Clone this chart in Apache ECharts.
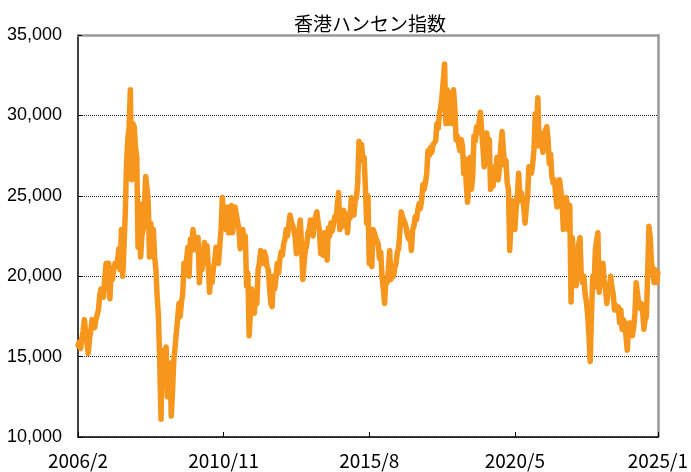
<!DOCTYPE html>
<html>
<head>
<meta charset="utf-8">
<script src="https://cdn.jsdelivr.net/npm/echarts@6/dist/echarts.min.js"></script>
<style>
html,body{margin:0;padding:0;background:#fff;}
#chart{width:691px;height:472px;}
</style>
</head>
<body>
<div id="chart"></div>
<script>
// Hang Seng Index, two readings per month (1st and 16th)
const title = '香港ハンセン指数';
const startYear = 2006, startMonth = 2, endYear = 2025, endMonth = 1;
const tickLabels = ['2006/2', '2010/11', '2015/8', '2020/5', '2025/1'];
const yTicks = [10000, 15000, 20000, 25000, 30000, 35000];

const hsi2006 = [15700,15900,15500,16100,16600,17300,16500,15900,15200,16100,16600,17300,17000,16800,17300,17400,17900,18800,19200,18900,18700,19900];
const hsi2007 = [20800,20300,20800,18600,20500,19800,20400,20800,20600,21000,21700,20400,22900,20000,21800,23900,27000,28500,29300,31600,26000,29500,29300,28000];
const hsi2008 = [27400,21800,24500,21200,22500,22900,24500,26200,25500,24500,21200,23300,22500,22900,21200,20400,18700,17500,14600,11100,15400,13800,13500,15600];
const hsi2009 = [12500,13600,14600,11300,12800,14800,15600,16500,17300,18300,17500,18400,18900,20800,20200,21000,21800,20000,22300,21600,22900,22300,22000,21600];
const hsi2010 = [22400,19600,20800,20400,21300,22100,20800,21900,20600,19000,20200,19600,20500,20900,21800,21000,20800,21900,22900,24900,23600,23900,22900,24300];
const hsi2011 = [22700,23500,24400,22700,23500,24300,23800,23700,22900,21700,22100,22900,22200,22500,19400,20200,16300,17800,19200,18400,17700,18700,18300,20400];
const hsi2012 = [20800,21600,21200,20800,21500,21200,20600,20400,19200,18300,18100,20000,19200,19900,20800,20200,21000,21500,21300,22000,22300,22900,22500,23200];
const hsi2013 = [23800,23400,23300,22900,22400,21400,22300,22800,23500,22000,19800,20800,21600,21900,22700,22900,23500,23100,22500,23400,23700,24000,23300,22900];
const hsi2014 = [21400,22200,21300,22700,22000,21000,23000,22500,23300,22800,23200,23700,23500,24400,25200,22900,23600,23100,24100,23500,23700,22700,23900,23600];
const hsi2015 = [24900,24400,23800,24700,24900,25800,28400,27700,28200,27200,27400,25500,23300,25000,20800,21500,20600,22900,22700,22400,22300,22000,21100,21500];
const hsi2016 = [20000,19200,18300,19800,19600,20400,21600,19800,20300,20000,20500,20800,21500,21700,22800,24000,23700,23500,23300,23000,22500,22300,22600,21600];
const hsi2017 = [22900,23100,23700,23500,24100,24500,24200,24700,25700,25400,25800,26400,27800,27500,28000,27700,28200,28300,28400,29500,29200,30100,30500,31200];
const hsi2018 = [32200,33200,29500,31600,29500,30800,31400,29500,31600,30500,28500,28700,28200,27800,28500,28100,26400,27300,25700,24600,26200,27400,25400,26200];
const hsi2019 = [28700,28400,29300,28900,29600,30200,29100,28000,26800,27300,28900,28300,28500,25400,26200,25600,26800,26200,27400,26000,26800,28100,29000,27800];
const hsi2020 = [26900,27200,25800,25400,21600,23500,24700,24100,22900,24200,25000,26400,24700,25200,24800,24300,23300,24300,25000,26800,26700,26400,27000,27900];
const hsi2021 = [30100,29200,31100,28100,28900,28500,27700,28700,29100,29300,28500,27000,27600,26200,25800,26000,25000,24300,25600,26000,25300,24500,22900,23700];
const hsi2022 = [24900,24500,22900,24400,18400,22400,21200,20400,19400,20700,22000,22400,20000,19600,20000,18900,18400,17600,16300,14700,17700,20000,19300,21600];
const hsi2023 = [22200,22700,19000,20400,20600,20800,19600,19200,18300,19000,19200,20000,19300,18900,17900,18200,17900,18100,17100,17900,16700,17300,17100,16300];
const hsi2024 = [15400,16700,17100,16500,16300,16800,17700,19600,19500,18300,18000,18300,17900,16700,17300,17500,17500,23100,22400,20800,20400,19600,20400,19600];
const hsi2025 = [20200];

const values = [].concat(hsi2006, hsi2007, hsi2008, hsi2009, hsi2010, hsi2011, hsi2012, hsi2013,
  hsi2014, hsi2015, hsi2016, hsi2017, hsi2018, hsi2019, hsi2020, hsi2021, hsi2022, hsi2023, hsi2024, hsi2025);

// category dates: 1st and 16th of each month
const dates = [];
for (let y = startYear, m = startMonth; y < endYear || (y === endYear && m <= endMonth); ) {
  dates.push(y + '/' + m + '/1');
  if (!(y === endYear && m === endMonth)) dates.push(y + '/' + m + '/16');
  m++; if (m > 12) { m = 1; y++; }
}

const ym = d => d.split('/').slice(0, 2).join('/');
const isTick = (i, v) => v.endsWith('/1') && tickLabels.indexOf(ym(v)) >= 0;

const chart = echarts.init(document.getElementById('chart'), null, {renderer: 'canvas'});
chart.setOption({
  animation: false,
  backgroundColor: '#fff',
  title: {
    text: title, left: 289, top: 9,
    textStyle: {fontFamily: 'Noto Sans CJK JP', fontSize: 19, fontWeight: 'normal', color: '#000'}
  },
  grid: {left: 78, right: 28, top: 35, bottom: 35, containLabel: false},
  xAxis: [{
    type: 'category', data: dates, boundaryGap: false,
    axisLine: {show: true, lineStyle: {color: '#000', width: 1.5}},
    axisTick: {show: true, inside: true, length: 5, interval: isTick, lineStyle: {color: '#000', width: 1}},
    axisLabel: {
      interval: isTick, formatter: v => ym(v), margin: 14,
      fontFamily: 'Noto Sans CJK JP', fontSize: 19, color: '#000',
      showMinLabel: true, showMaxLabel: true
    },
    splitLine: {show: false}
  }, {
    type: 'category', data: dates, boundaryGap: false, position: 'top',
    axisLine: {show: true, lineStyle: {color: '#999', width: 2.5}},
    axisTick: {show: false}, axisLabel: {show: false}, splitLine: {show: false}
  }],
  yAxis: [{
    type: 'value', min: yTicks[0], max: yTicks[yTicks.length - 1], interval: yTicks[1] - yTicks[0],
    axisLine: {show: true, lineStyle: {color: '#000', width: 1.5}},
    axisTick: {show: true, inside: true, length: 4, lineStyle: {color: '#000'}},
    axisLabel: {
      margin: 16, fontFamily: 'Liberation Sans', fontSize: 18, color: '#000',
      formatter: v => v.toLocaleString('en-US')
    },
    splitLine: {show: true, lineStyle: {color: '#222', type: 'dotted', width: 1}}
  }, {
    type: 'value', min: yTicks[0], max: yTicks[yTicks.length - 1], position: 'right',
    axisLine: {show: true, lineStyle: {color: '#999', width: 2.5}},
    axisTick: {show: false}, axisLabel: {show: false}, splitLine: {show: false}
  }],
  series: [{
    type: 'line', data: values, xAxisIndex: 0, yAxisIndex: 0,
    showSymbol: false, symbol: 'none', clip: false, z: 1,
    lineStyle: {color: '#F7961C', width: 5.5, join: 'round', cap: 'round'}
  }]
});
</script>
</body>
</html>
